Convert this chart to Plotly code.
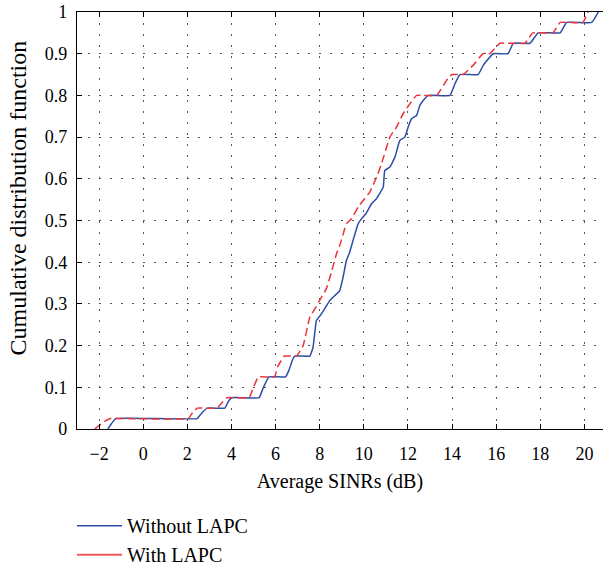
import plotly.graph_objects as go

# Without LAPC (blue, solid)
without_x = [-1.6, -1.45, -1.25, 2.45, 2.6, 2.9, 3.7, 3.85, 4.0, 5.25, 5.45, 5.7, 6.45, 6.6, 6.8, 6.9,
             7.55, 7.7, 7.85, 8.08, 8.46, 8.69, 8.91, 9.06, 9.21, 9.36, 9.51, 9.74, 9.89, 10.09, 10.35,
             10.57, 10.88, 10.95, 11.18, 11.41, 11.63, 11.86, 12.01, 12.16, 12.39, 12.54, 12.69, 12.92,
             13.9, 14.13, 14.35, 15.18, 15.41, 15.86, 16.54, 16.77, 17.53, 17.9, 18.9, 19.19, 20.33, 20.63]
without_y = [0.0, 0.012, 0.025, 0.025, 0.035, 0.05, 0.05, 0.065, 0.075, 0.075, 0.1, 0.125, 0.125, 0.14, 0.17, 0.175,
             0.175, 0.196, 0.26, 0.276, 0.308, 0.32, 0.332, 0.364, 0.404, 0.424, 0.452, 0.492, 0.504, 0.516, 0.54,
             0.552, 0.58, 0.62, 0.628, 0.652, 0.692, 0.70, 0.724, 0.744, 0.752, 0.776, 0.788, 0.80,
             0.80, 0.828, 0.85, 0.85, 0.872, 0.90, 0.90, 0.925, 0.925, 0.95, 0.95, 0.975, 0.975, 1.0]

# With LAPC (red, dashed)
with_x = [-2.2, -2.0, -1.75, -1.5, 2.05, 2.25, 2.45, 3.35, 3.6, 3.8, 4.8, 5.0, 5.22, 5.95, 6.1, 6.4,
          6.95, 7.25, 7.55, 7.78, 8.08, 8.3, 8.53, 8.76, 8.91, 9.21, 9.44, 9.74, 9.97,
          10.27, 10.58, 10.8, 11.18, 11.48, 11.78, 12.09, 12.39, 13.3, 13.75, 13.98, 14.5, 14.95, 15.4,
          15.7, 16.17, 17.3, 17.66, 18.57, 18.9, 19.93, 20.16]
with_y = [0.0, 0.008, 0.018, 0.025, 0.025, 0.04, 0.05, 0.05, 0.065, 0.075, 0.075, 0.1, 0.125, 0.125, 0.15, 0.175,
          0.175, 0.2, 0.268, 0.288, 0.316, 0.336, 0.376, 0.42, 0.44, 0.492, 0.504, 0.532, 0.548,
          0.568, 0.604, 0.636, 0.70, 0.724, 0.756, 0.78, 0.80, 0.80, 0.836, 0.85, 0.85, 0.872, 0.90,
          0.90, 0.925, 0.925, 0.95, 0.95, 0.975, 0.975, 1.0]

x_ticks = [-2, 0, 2, 4, 6, 8, 10, 12, 14, 16, 18, 20]
y_ticks = [0, 0.1, 0.2, 0.3, 0.4, 0.5, 0.6, 0.7, 0.8, 0.9, 1]

BLUE = "#2a4da6"
RED = "#e8363b"
FONT = "Liberation Serif"

fig = go.Figure()
fig.add_trace(go.Scatter(x=without_x, y=without_y, mode="lines", showlegend=False,
                         line=dict(color=BLUE, width=1.5, shape="spline", smoothing=0.3)))
fig.add_trace(go.Scatter(x=with_x, y=with_y, mode="lines", showlegend=False,
                         line=dict(color=RED, width=1.5, dash="8px,4px", shape="spline", smoothing=0.3)))
# legend samples (solid lines as in the reference legend)
fig.add_trace(go.Scatter(x=[None], y=[None], mode="lines", name="Without LAPC",
                         line=dict(color=BLUE, width=1.5)))
fig.add_trace(go.Scatter(x=[None], y=[None], mode="lines", name="With LAPC",
                         line=dict(color="#f05a5a", width=2)))

fig.update_layout(
    width=603, height=565,
    margin=dict(l=77, r=0, t=12, b=136, autoexpand=False),
    paper_bgcolor="white", plot_bgcolor="white",
    font=dict(family=FONT, size=18, color="black"),
    showlegend=True,
    legend=dict(x=(72 - 77) / 526, y=-0.185, xanchor="left", yanchor="top",
                font=dict(family=FONT, size=20, color="black"),
                bgcolor="rgba(0,0,0,0)", itemwidth=45, tracegroupgap=0),
    annotations=[dict(text="Cumulative distribution function", xref="paper", yref="paper",
                      x=(18 - 77) / 526, y=(428.5 - 198) / 416.8, textangle=-90,
                      showarrow=False, xanchor="center", yanchor="middle",
                      font=dict(family=FONT, size=24, color="black"))],
)
fig.update_xaxes(range=[-3, 20.84], tickmode="array", tickvals=x_ticks,
                 ticks="inside", ticklen=5, tickcolor="black", tickwidth=1,
                 showline=True, linecolor="black", linewidth=1.2, mirror="ticks",
                 showgrid=True, gridcolor="#555555", gridwidth=1, griddash="2px,9px",
                 zeroline=False, ticklabelstandoff=8, automargin=False,
                 title=dict(text="Average SINRs (dB)", font=dict(family=FONT, size=20), standoff=11),
                 tickfont=dict(family=FONT, size=18))
fig.update_yaxes(range=[0, 1], tickmode="array", tickvals=y_ticks,
                 ticks="inside", ticklen=5, tickcolor="black", tickwidth=1,
                 showline=True, linecolor="black", linewidth=1.2, mirror=False,
                 showgrid=True, gridcolor="#555555", gridwidth=1, griddash="2px,9px",
                 zeroline=False, ticklabelstandoff=5, automargin=False,
                 tickfont=dict(family=FONT, size=18))

fig.write_html("out.html")
